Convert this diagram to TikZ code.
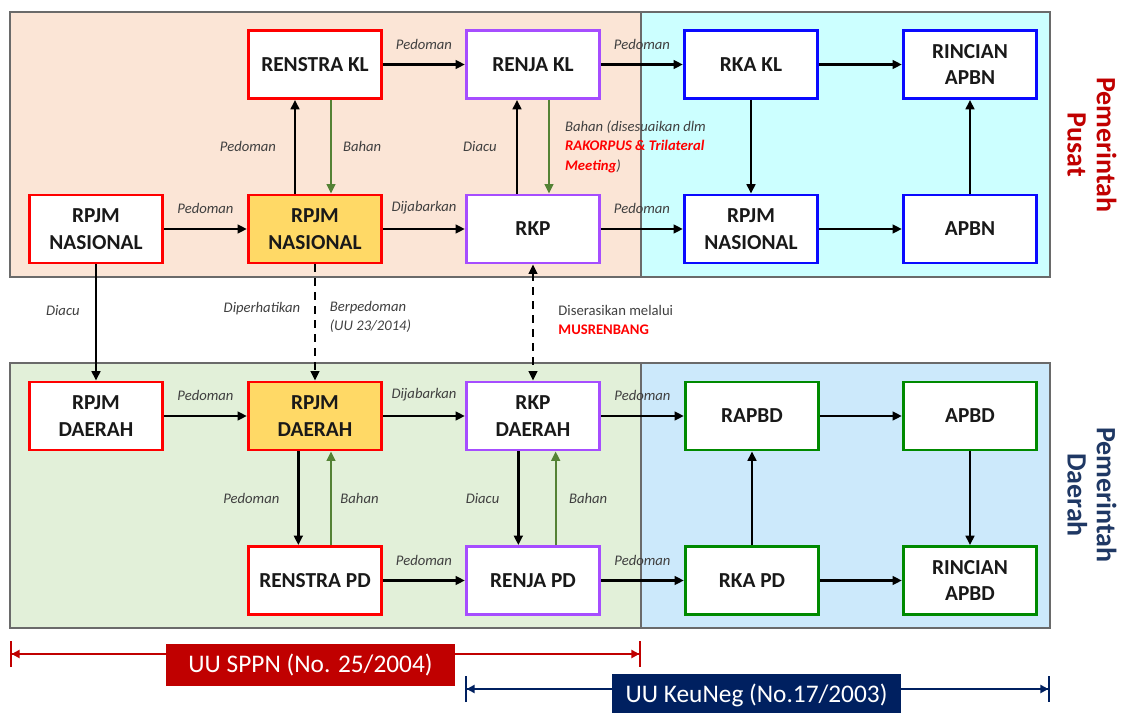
\documentclass[tikz,border=0pt]{standalone}
\usepackage{fontspec}
\setmainfont{Carlito}
\usepackage{tikz}
\usetikzlibrary{arrows.meta,positioning}
\definecolor{pusatbg}{HTML}{FBE5D6}
\definecolor{apbnbg}{HTML}{CCFFFF}
\definecolor{daerahbg}{HTML}{E2F0D9}
\definecolor{apbdbg}{HTML}{CCE9FB}
\definecolor{panelgray}{HTML}{6A6A6A}
\definecolor{boxred}{HTML}{FF0000}
\definecolor{boxyellow}{HTML}{FFD966}
\definecolor{boxpurple}{HTML}{A64DFF}
\definecolor{boxblue}{HTML}{0A0AFF}
\definecolor{boxgreen}{HTML}{008A00}
\definecolor{bahangreen}{HTML}{548235}
\definecolor{lblgray}{HTML}{404040}
\definecolor{pusatred}{HTML}{C00000}
\definecolor{daerahnavy}{HTML}{1F3864}
\definecolor{lawnavy}{HTML}{002060}
\tikzset{%
	panel/.style     = {draw=panelgray, line width=1pt},
	box/.style       = {draw, rectangle, line width=2.2pt, fill=white, text=black!90, minimum width=100pt, minimum height=51pt, align=center, font=\fontsize{16}{20}\selectfont\bfseries},
	redbox/.style    = {box, draw=boxred},
	yellowbox/.style = {redbox, fill=boxyellow},
	purplebox/.style = {box, draw=boxpurple},
	bluebox/.style   = {box, draw=boxblue},
	greenbox/.style  = {box, draw=boxgreen},
	arrow/.style     = {line width=1.8pt, -{Triangle[length=7pt,width=6.5pt]}},
	bahan/.style     = {arrow, draw=bahangreen, line width=1.5pt},
	dasharrow/.style = {arrow, line width=1.5pt, dash pattern=on 6pt off 4.5pt},
	dbl/.style       = {dasharrow, {Triangle[length=7pt,width=6.5pt]}-{Triangle[length=7pt,width=6.5pt]}},
	lbl/.style       = {font=\fontsize{11}{14.5}\selectfont\itshape, text=lblgray, align=left},
	lawbar/.style    = {line width=2pt, {Bar[width=19.5pt,line width=1.2pt]Triangle[length=6pt,width=6pt]}-{Triangle[length=6pt,width=6pt]Bar[width=19.5pt,line width=1.2pt]}},
	lawbox/.style    = {rectangle, text=white, minimum width=217pt, minimum height=31.5pt, font=\fontsize{19}{22}\selectfont},
	sidetitle/.style = {rotate=-90, align=center, font=\fontsize{21}{22}\selectfont\bfseries},
}
\begin{document}
\begin{tikzpicture}[x=0.75pt,y=-0.75pt]
	\fill[white] (0,0) rectangle (1121,713);
	\useasboundingbox (0,0) rectangle (1121,713);
	% panels
	\draw[panel, fill=pusatbg] (10,12) rectangle (641,277);
	\draw[panel, fill=apbnbg] (641,12) rectangle (1050,277);
	\draw[panel, fill=daerahbg] (10,363) rectangle (641,628);
	\draw[panel, fill=apbdbg] (641,363) rectangle (1050,628);

	% pemerintah pusat
	\node[redbox] (renstrakl) at (315,64.5) {RENSTRA KL};
	\node[purplebox] (renjakl) at (533,64.5) {RENJA KL};
	\node[bluebox] (rkakl) at (751,64.5) {RKA KL};
	\node[bluebox] (rincianapbn) at (970,64.5) {RINCIAN\\APBN};
	\node[redbox] (rpjmnas) at (96,229) {RPJM\\NASIONAL};
	\node[yellowbox] (rpjmnasy) at (315,229) {RPJM\\NASIONAL};
	\node[purplebox] (rkp) at (533,229) {RKP};
	\node[bluebox] (rpjmnasb) at (751,229) {RPJM\\NASIONAL};
	\node[bluebox] (apbn) at (970,229) {APBN};

	% pemerintah daerah
	\node[redbox] (rpjmd) at (96,416) {RPJM\\DAERAH};
	\node[yellowbox] (rpjmdy) at (315,416) {RPJM\\DAERAH};
	\node[purplebox] (rkpd) at (533,416) {RKP\\DAERAH};
	\node[greenbox] (rapbd) at (752,416) {RAPBD};
	\node[greenbox] (apbd) at (970,416) {APBD};
	\node[redbox] (renstrapd) at (315,580.5) {RENSTRA PD};
	\node[purplebox] (renjapd) at (533,580.5) {RENJA PD};
	\node[greenbox] (rkapd) at (752,580.5) {RKA PD};
	\node[greenbox] (rincianapbd) at (970,580.5) {RINCIAN\\APBD};

	\draw[arrow] (renstrakl) -- (renjakl) node[midway, above=7pt, lbl] {Pedoman};
	\draw[arrow] (renjakl) -- (rkakl) node[midway, above=7pt, lbl] {Pedoman};
	\draw[arrow] (rkakl) -- (rincianapbn);
	\draw[arrow] (rpjmnas) -- (rpjmnasy) node[midway, above=7pt, lbl] {Pedoman};
	\draw[arrow] (rpjmnasy) -- (rkp) node[midway, above=7pt, lbl] {Dijabarkan};
	\draw[arrow] (rkp) -- (rpjmnasb) node[midway, above=7pt, lbl] {Pedoman};
	\draw[arrow] (rpjmnasb) -- (apbn);
	\draw[arrow] (rkakl) -- (rpjmnasb);
	\draw[arrow] (apbn) -- (rincianapbn);
	\draw[arrow] ([xshift=-15pt]rpjmnasy.north) -- ([xshift=-15pt]renstrakl.south) node[midway, left=10pt, lbl] {Pedoman};
	\draw[bahan] ([xshift=12pt]renstrakl.south) -- ([xshift=12pt]rpjmnasy.north) node[midway, right=5pt, lbl] {Bahan};
	\draw[arrow] ([xshift=-12pt]rkp.north) -- ([xshift=-12pt]renjakl.south) node[midway, left=11pt, lbl] {Diacu};
	\draw[bahan] ([xshift=12pt]renjakl.south) -- ([xshift=12pt]rkp.north) node[midway, right=8pt, lbl] {Bahan (disesuaikan dlm\\{\color{boxred}\bfseries RAKORPUS \& Trilateral}\\{\color{boxred}\bfseries Meeting})};

	\draw[arrow] (rpjmnas) -- (rpjmd) node[pos=0.4, left=8pt, lbl] {Diacu};
	\draw[dasharrow] (rpjmnasy) -- (rpjmdy) node[pos=0.38, left=7pt, lbl] {Diperhatikan} node[pos=0.45, right=7pt, lbl] {Berpedoman\\(UU 23/2014)};
	\draw[dbl] (rkp) -- (rkpd) node[pos=0.48, right=15pt, lbl, font=\fontsize{11}{14.5}\selectfont] {Diserasikan melalui\\{\color{boxred}\bfseries MUSRENBANG}};

	\draw[arrow] (rpjmd) -- (rpjmdy) node[midway, above=7pt, lbl] {Pedoman};
	\draw[arrow] (rpjmdy) -- (rkpd) node[midway, above=7pt, lbl] {Dijabarkan};
	\draw[arrow] (rkpd) -- (rapbd) node[midway, above=7pt, lbl] {Pedoman};
	\draw[arrow] (rapbd) -- (apbd);
	\draw[arrow] (apbd) -- (rincianapbd);
	\draw[arrow] (rkapd) -- (rapbd);
	\draw[arrow] (renstrapd) -- (renjapd) node[midway, above=7pt, lbl] {Pedoman};
	\draw[arrow] (renjapd) -- (rkapd) node[midway, above=7pt, lbl] {Pedoman};
	\draw[arrow] (rkapd) -- (rincianapbd);
	\draw[arrow] ([xshift=-12.5pt]rpjmdy.south) -- ([xshift=-12.5pt]renstrapd.north) node[midway, left=10pt, lbl] {Pedoman};
	\draw[bahan] ([xshift=12pt]renstrapd.north) -- ([xshift=12pt]rpjmdy.south) node[midway, right=3pt, lbl] {Bahan};
	\draw[arrow] ([xshift=-11pt]rkpd.south) -- ([xshift=-11pt]renjapd.north) node[midway, left=10pt, lbl] {Diacu};
	\draw[bahan] ([xshift=17pt]renjapd.north) -- ([xshift=17pt]rkpd.south) node[midway, right=6pt, lbl] {Bahan};

	\node[sidetitle, text=pusatred] (pusat) at (1092,145) {Pemerintah\\Pusat};
	\node[sidetitle, text=daerahnavy] (daerah) at (1092,495) {Pemerintah\\Daerah};

	% undang-undang
	\coordinate (sppnL) at (10,654);
	\coordinate (sppnR) at (641,654);
	\coordinate (keunegL) at (465,689);
	\coordinate (keunegR) at (1050,689);
	\draw[lawbar, draw=pusatred] (sppnL) -- (sppnR);
	\draw[lawbar, draw=lawnavy] (keunegL) -- (keunegR);
	\node[lawbox, fill=pusatred] (sppn) at (310.5,665) {UU SPPN (No. 25/2004)};
	\node[lawbox, fill=lawnavy] (keuneg) at (756.5,695) {UU KeuNeg (No.17/2003)};
\end{tikzpicture}
\end{document}
